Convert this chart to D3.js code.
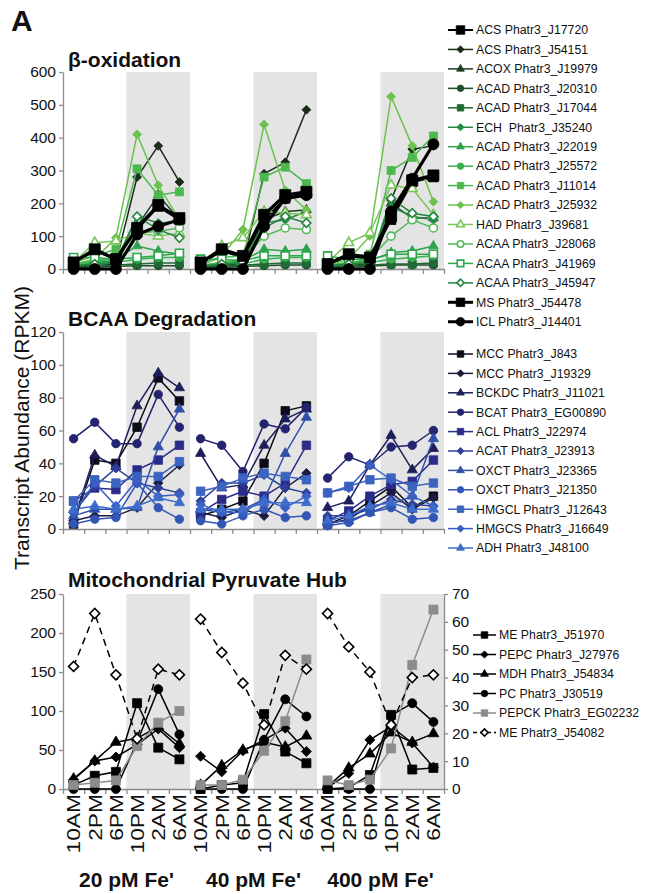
<!DOCTYPE html>
<html>
<head>
<meta charset="utf-8">
<script src="https://cdn.jsdelivr.net/npm/d3@7"></script>
<style>
  body { margin: 0; background: #fff; }
  svg { display: block; font-family: "Liberation Sans", Arial, sans-serif; }
</style>
</head>
<body>
<div id="chart"></div>
<script>
// ---- categories ----
const times = ["10AM", "2PM", "6PM", "10PM", "2AM", "6AM"];
const doses = ["20 pM Fe'", "40 pM Fe'", "400 pM Fe'"];

// ---- beta-oxidation (RPKM), 6 time points x 3 iron levels ----
const betaNames = [
  "ACS Phatr3_J17720", "ACS Phatr3_J54151", "ACOX Phatr3_J19979", "ACAD Phatr3_J20310",
  "ACAD Phatr3_J17044", "ECH  Phatr3_J35240", "ACAD Phatr3_J22019", "ACAD Phatr3_J25572",
  "ACAD Phatr3_J11014", "ACAD Phatr3_J25932", "HAD Phatr3_J39681", "ACAA Phatr3_J28068",
  "ACAA Phatr3_J41969", "ACAA Phatr3_J45947", "MS Phatr3_J54478", "ICL Phatr3_J14401"
];
const betaValues = [
  [20, 55, 30, 120, 190, 150,  15, 55, 35, 150, 215, 230,  12, 40, 30, 150, 265, 280],
  [5, 15, 20, 280, 375, 265,   5, 10, 15, 290, 325, 485,   5, 10, 15, 210, 365, 375],
  [5, 10, 15, 130, 225, 150,   5, 10, 15, 150, 175, 180,   5, 10, 15, 200, 155, 155],
  [3, 5, 8, 10, 10, 10,        3, 5, 8, 10, 12, 12,        3, 5, 8, 12, 12, 12],
  [8, 10, 12, 15, 18, 18,      8, 10, 12, 15, 18, 18,      8, 10, 12, 15, 15, 18],
  [10, 20, 25, 160, 140, 145,  8, 15, 20, 140, 150, 175,   8, 15, 20, 190, 160, 150],
  [10, 25, 30, 70, 55, 45,     10, 20, 25, 60, 55, 60,     10, 20, 25, 50, 55, 70],
  [10, 20, 20, 30, 35, 35,     10, 20, 15, 30, 35, 35,     10, 20, 20, 30, 35, 40],
  [20, 40, 60, 305, 225, 235,  15, 35, 40, 280, 310, 260,  15, 40, 45, 300, 340, 405],
  [15, 30, 95, 410, 255, 150,  10, 40, 120, 440, 240, 180, 10, 30, 100, 525, 375, 205],
  [20, 80, 85, 110, 100, 110,  15, 70, 95, 175, 170, 165,  20, 80, 110, 255, 245, 165],
  [15, 25, 35, 110, 115, 125,  10, 20, 30, 100, 125, 120,  10, 20, 30, 100, 150, 125],
  [35, 35, 30, 35, 40, 48,     30, 30, 25, 40, 40, 40,     40, 30, 30, 45, 45, 45],
  [10, 15, 20, 160, 120, 95,   10, 15, 20, 125, 160, 140,  10, 15, 20, 215, 170, 160],
  [20, 60, 30, 125, 195, 155,  20, 60, 40, 165, 225, 235,  15, 45, 35, 160, 270, 285],
  [0, 0, 0, 105, 130, 150,     0, 0, 0, 130, 215, 225,     0, 0, 0, 175, 275, 380]
];
const betaColors = ["#000000", "#1b2a1b", "#1e3d22", "#1f4e2a", "#1f6b36", "#278a43", "#2ea24c", "#3ab14f",
                    "#4cb84f", "#6cc24f", "#7cc65a", "#55b85a", "#2aa84a", "#22843f", "#000000", "#000000"];
const betaShapes = ["square", "diamond", "triangle", "circle", "square", "diamond", "triangle", "circle",
                    "square", "diamond", "triangle", "circle", "square", "diamond", "square", "circle"];
const betaOpen = [0, 0, 0, 0, 0, 0, 0, 0, 0, 0, 1, 1, 1, 1, 0, 0];
const betaBold = [1, 0, 0, 0, 0, 0, 0, 0, 0, 0, 0, 0, 0, 0, 2, 2];

// ---- BCAA degradation ----
const bcaaNames = [
  "MCC Phatr3_J843", "MCC Phatr3_J19329", "BCKDC Phatr3_J11021", "BCAT Phatr3_EG00890",
  "ACL Phatr3_J22974", "ACAT Phatr3_J23913", "OXCT Phatr3_J23365", "OXCT Phatr3_J21350",
  "HMGCL Phatr3_J12643", "HMGCS Phatr3_J16649", "ADH Phatr3_J48100"
];
const bcaaValues = [
  [3, 42, 40, 62, 92, 78,    8, 12, 17, 40, 72, 75,     3, 8, 17, 26, 13, 20],
  [5, 8, 8, 13, 28, 39,      10, 7, 12, 8, 25, 34,      3, 6, 14, 22, 12, 19],
  [5, 45, 38, 75, 95, 86,    46, 25, 27, 51, 67, 73,    13, 17, 39, 57, 36, 49],
  [55, 65, 52, 52, 82, 62,   55, 51, 35, 64, 61, 74,    31, 44, 39, 50, 51, 60],
  [17, 25, 24, 36, 42, 51,   10, 18, 23, 20, 28, 51,    5, 11, 20, 27, 29, 42],
  [10, 26, 37, 28, 25, 22,   17, 28, 28, 33, 25, 22,    8, 8, 12, 18, 15, 14],
  [8, 12, 12, 13, 50, 73,    12, 10, 12, 18, 46, 68,    4, 5, 10, 15, 20, 55],
  [3, 6, 7, 28, 13, 6,       5, 3, 8, 12, 7, 8,         2, 4, 10, 13, 6, 7],
  [17, 30, 28, 32, 32, 41,   23, 26, 31, 34, 32, 30,    22, 26, 30, 31, 26, 28],
  [10, 28, 14, 30, 20, 21,   15, 10, 10, 18, 13, 20,    22, 25, 39, 30, 20, 14],
  [12, 14, 12, 14, 19, 16,   12, 12, 12, 16, 16, 16,    5, 8, 14, 16, 12, 12]
];
const bcaaColors = ["#0d0d1a", "#1b1b40", "#1e1e5a", "#232370", "#2b2b8a", "#2e3f98",
                    "#2f4fa8", "#3355b5", "#3b63c0", "#3a5ec4", "#3d6ccc"];
const bcaaShapes = ["square", "diamond", "triangle", "circle", "square", "diamond",
                    "triangle", "circle", "square", "diamond", "triangle"];

// ---- mitochondrial pyruvate hub (last series on the right axis) ----
const pyrNames = ["ME Phatr3_J51970", "PEPC Phatr3_J27976", "MDH Phatr3_J54834",
                  "PC Phatr3_J30519", "PEPCK Phatr3_EG02232", "ME Phatr3_J54082"];
const pyrValues = [
  [5, 17, 22, 110, 53, 38,    0, 5, 8, 96, 48, 33,      0, 2, 18, 95, 25, 27],
  [12, 36, 41, 57, 77, 53,    42, 22, 49, 63, 78, 48,   2, 20, 63, 80, 59, 28],
  [13, 36, 60, 65, 80, 58,    5, 30, 50, 60, 54, 68,    3, 27, 45, 72, 60, 71],
  [0, 0, 0, 60, 128, 70,      0, 0, 0, 63, 115, 93,     0, 0, 0, 94, 110, 86],
  [5, 8, 11, 55, 85, 100,     5, 5, 12, 49, 87, 166,    11, 5, 12, 52, 159, 230],
  [44, 63, 41, 18, 43, 41,    61, 49, 38, 23, 48, 43,   63, 51, 42, 23, 40, 41]
];
const pyrColors = ["#000000", "#000000", "#000000", "#000000", "#8c8c8c", "#000000"];
const pyrShapes = ["square", "diamond", "triangle", "circle", "square", "diamond"];
const pyrOpen = [0, 0, 0, 0, 0, 1];

const leftTicks = { beta: d3.range(0, 601, 100), bcaa: d3.range(0, 121, 20), pyr: d3.range(0, 251, 50) };
const rightTicks = d3.range(0, 71, 10);

// ---- drawing ----
const W = 648, H = 894;
const svg = d3.select("#chart").append("svg").attr("width", W).attr("height", H);

const nPts = times.length * doses.length;
const x = d3.scaleBand().domain(d3.range(nPts)).range([63, 444]);
const xEdge = d3.scaleLinear().domain([0, nPts]).range([63, 444]);
const cx = i => x(i) + x.bandwidth() / 2;
const AXIS = "#8c8c8c";

/**
 * Returns a path string for a marker of roughly `s` px across.
 */
function markerPath(shape, s) {
  if (shape === "square") return d3.symbol(d3.symbolSquare, s * s)();
  if (shape === "diamond") return d3.symbol(d3.symbolSquare, s * s * 0.62)();
  if (shape === "triangle") return d3.symbol(d3.symbolTriangle, Math.sqrt(3) / 4 * (1.2 * s) ** 2)();
  return d3.symbol(d3.symbolCircle, Math.PI * s * s / 4)();
}

function drawMarker(g, shape, s, px, py, color, open) {
  g.append("path")
    .attr("d", markerPath(shape, s))
    .attr("transform", `translate(${px},${py})` + (shape === "diamond" ? " rotate(45)" : ""))
    .attr("fill", open ? "#fff" : color)
    .attr("stroke", color)
    .attr("stroke-width", open ? 1.6 : 0.8);
}

function drawPanel(p) {
  const y = d3.scaleLinear().domain([0, p.ticks[p.ticks.length - 1]]).range([p.y0, p.y1]);
  const g = svg.append("g");

  // night shading
  doses.forEach((d, k) => {
    g.append("rect")
      .attr("x", xEdge(k * 6 + 3)).attr("y", p.y1)
      .attr("width", xEdge(k * 6 + 6) - xEdge(k * 6 + 3))
      .attr("height", p.y0 - p.y1)
      .attr("fill", "#e4e4e4");
  });

  const ya = g.append("g").attr("transform", "translate(63,0)")
    .call(d3.axisLeft(y).tickValues(p.ticks).tickSize(4).tickPadding(3).tickSizeOuter(0));
  const xa = g.append("g").attr("transform", `translate(0,${p.y0})`)
    .call(d3.axisBottom(xEdge).tickValues(d3.range(nPts + 1)).tickSize(5).tickFormat("").tickSizeOuter(0));
  [ya, xa].forEach(a => {
    a.select(".domain").attr("stroke", AXIS).attr("stroke-width", 1.3);
    a.selectAll(".tick line").attr("stroke", AXIS).attr("stroke-width", 1.3);
    a.selectAll(".tick text").attr("fill", "#111").style("font-size", "15.5px").style("font-family", "Liberation Sans, Arial, sans-serif");
  });

  let yR = null;
  if (p.rightTicks) {
    yR = d3.scaleLinear().domain([0, p.rightTicks[p.rightTicks.length - 1]]).range([p.y0, p.y1]);
    const ra = g.append("g").attr("transform", "translate(444,0)")
      .call(d3.axisRight(yR).tickValues(p.rightTicks).tickSize(4).tickPadding(4).tickSizeOuter(0));
    ra.select(".domain").attr("stroke", AXIS).attr("stroke-width", 1.3);
    ra.selectAll(".tick line").attr("stroke", AXIS).attr("stroke-width", 1.3);
    ra.selectAll(".tick text").attr("fill", "#111").style("font-size", "15.5px").style("font-family", "Liberation Sans, Arial, sans-serif");
  }

  g.append("text").attr("x", 68).attr("y", p.titleY)
    .attr("font-weight", "bold").attr("font-size", 21).attr("fill", "#111").text(p.title);

  const line = d3.line().x(d => cx(d.i)).y(d => d.y);

  p.values.forEach((vals, s) => {
    const scale = (p.rightIdx === s) ? yR : y;
    const pts = vals.map((v, i) => ({ i, y: scale(v) }));
    const bold = p.bold ? p.bold[s] : 0;
    const lw = bold === 2 ? 3.2 : bold === 1 ? 2.2 : 1.5;
    doses.forEach((d, k) => {
      g.append("path")
        .attr("d", line(pts.slice(k * 6, k * 6 + 6)))
        .attr("fill", "none")
        .attr("stroke", p.colors[s])
        .attr("stroke-width", lw)
        .attr("stroke-dasharray", p.rightIdx === s ? "7,5" : null);
    });
    const ms = bold === 2 ? 11 : bold === 1 ? 9.5 : p.markerSize;
    pts.forEach(pt => drawMarker(g, p.shapes[s], ms, cx(pt.i), pt.y, p.colors[s], p.open && p.open[s]));
  });

  // legend
  const lg = svg.append("g");
  p.names.forEach((name, s) => {
    const ly = p.legY + s * p.legStep;
    const bold = p.bold ? p.bold[s] : 0;
    lg.append("line")
      .attr("x1", p.legX0).attr("x2", p.legX1).attr("y1", ly).attr("y2", ly)
      .attr("stroke", p.colors[s]).attr("stroke-width", bold === 2 ? 3 : bold === 1 ? 2 : 1.5)
      .attr("stroke-dasharray", p.rightIdx === s ? "4,3" : null);
    drawMarker(lg, p.shapes[s], bold ? 8.5 : 6.5, (p.legX0 + p.legX1) / 2, ly, p.colors[s], p.open && p.open[s]);
    lg.append("text").attr("x", p.legX1 + 3).attr("y", ly).attr("dy", "0.35em")
      .attr("font-size", 12.3).attr("fill", "#111").attr("xml:space", "preserve").text(name);
  });
}

drawPanel({
  y0: 269, y1: 72, ticks: leftTicks.beta, title: "\u03b2-oxidation", titleY: 67,
  names: betaNames, values: betaValues, colors: betaColors, shapes: betaShapes,
  open: betaOpen, bold: betaBold, markerSize: 8,
  legX0: 448, legX1: 473, legY: 30, legStep: 19.45
});
drawPanel({
  y0: 529, y1: 332, ticks: leftTicks.bcaa, title: "BCAA Degradation", titleY: 326,
  names: bcaaNames, values: bcaaValues, colors: bcaaColors, shapes: bcaaShapes,
  markerSize: 8.5, legX0: 448, legX1: 473, legY: 354, legStep: 19.4
});
drawPanel({
  y0: 789, y1: 594, ticks: leftTicks.pyr, rightTicks: rightTicks, rightIdx: 5,
  title: "Mitochondrial Pyruvate Hub", titleY: 587,
  names: pyrNames, values: pyrValues, colors: pyrColors, shapes: pyrShapes, open: pyrOpen,
  markerSize: 9, legX0: 473, legX1: 496, legY: 635, legStep: 19.5
});

// time labels (rotated) and iron levels
for (let i = 0; i < nPts; i++) {
  svg.append("text")
    .attr("transform", `translate(${cx(i)},794) rotate(-90) scale(1.2,1)`)
    .attr("text-anchor", "end").attr("dy", "0.36em")
    .attr("font-size", 19).attr("fill", "#111")
    .text(times[i % times.length]);
}
doses.forEach((d, k) => {
  svg.append("text").attr("x", xEdge(k * 6 + 3)).attr("y", 887)
    .attr("text-anchor", "middle").attr("font-weight", "bold").attr("font-size", 21)
    .attr("fill", "#111").text(d);
});

svg.append("text").attr("transform", "translate(22,428) rotate(-90)")
  .attr("text-anchor", "middle").attr("dy", "0.35em")
  .attr("font-size", 21).attr("fill", "#111").text("Transcript Abundance (RPKM)");

svg.append("text").attr("x", 11).attr("y", 31)
  .attr("font-weight", "bold").attr("font-size", 30).attr("fill", "#111").text("A");
</script>
</body>
</html>
